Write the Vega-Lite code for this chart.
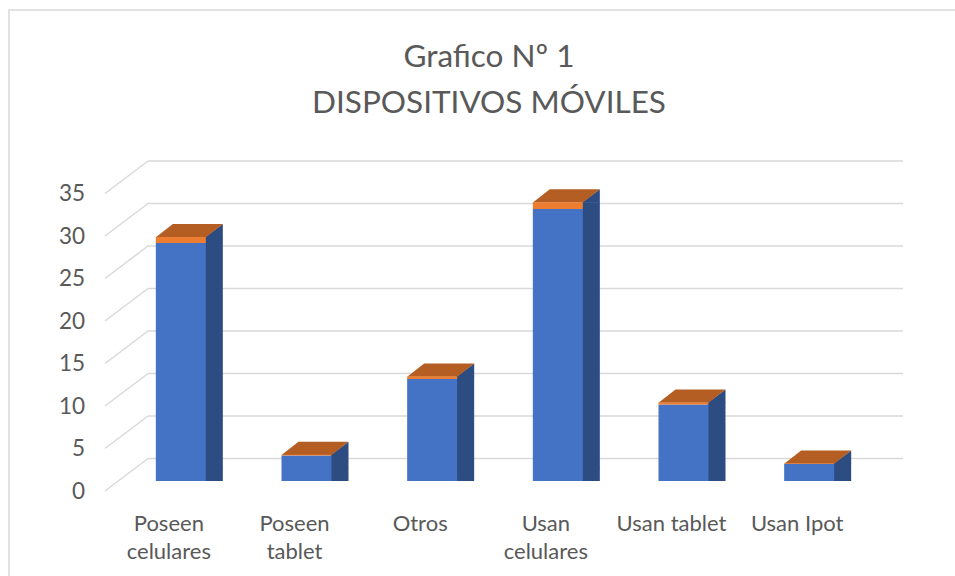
{
  "$schema": "https://vega.github.io/schema/vega-lite/v6.json",
  "autosize": {"type": "none"},
  "padding": {"left": 9, "top": 10, "right": 0, "bottom": 0},
  "width": 950,
  "height": 570,
  "background": "white",
  "config": {
    "view": {"stroke": "#D9D9D9", "strokeWidth": 1.5},
    "font": "Lato"
  },
  "title": {
    "text": ["Grafico Nº 1", "DISPOSITIVOS MÓVILES"],
    "font": "Lato",
    "fontSize": 31.5,
    "fontWeight": "normal",
    "color": "#595959",
    "lineHeight": 46,
    "anchor": "middle",
    "dx": 5,
    "baseline": "top",
    "offset": -109
  },
  "datasets": {
    "bars": [
      {"cat": "Poseen celulares", "serie": "Serie 1", "value": 28},
      {"cat": "Poseen celulares", "serie": "Serie 2", "value": 0.7},
      {"cat": "Poseen tablet", "serie": "Serie 1", "value": 3},
      {"cat": "Poseen tablet", "serie": "Serie 2", "value": 0.075},
      {"cat": "Otros", "serie": "Serie 1", "value": 12},
      {"cat": "Otros", "serie": "Serie 2", "value": 0.3},
      {"cat": "Usan celulares", "serie": "Serie 1", "value": 32},
      {"cat": "Usan celulares", "serie": "Serie 2", "value": 0.8},
      {"cat": "Usan tablet", "serie": "Serie 1", "value": 9},
      {"cat": "Usan tablet", "serie": "Serie 2", "value": 0.225},
      {"cat": "Usan Ipot", "serie": "Serie 1", "value": 2},
      {"cat": "Usan Ipot", "serie": "Serie 2", "value": 0.05}
    ],
    "grid": [{"v": 0}, {"v": 5}, {"v": 10}, {"v": 15}, {"v": 20}, {"v": 25}, {"v": 30}, {"v": 35}]
  },
  "layer": [
    {
      "data": {"name": "grid"},
      "mark": {"type": "rule", "color": "#D9D9D9", "strokeWidth": 1.5, "xOffset": 42, "x2Offset": 43, "yOffset": -22.5, "y2Offset": -22.5},
      "encoding": {
        "x": {"datum": "Poseen celulares", "bandPosition": 0, "type": "nominal",
              "scale": {"domain": ["Poseen celulares", "Poseen tablet", "Otros", "Usan celulares", "Usan tablet", "Usan Ipot"], "range": [97, 851], "paddingInner": 0, "paddingOuter": 0},
              "axis": {"orient": "bottom", "offset": -60, "domain": false, "ticks": false, "grid": false, "title": null, "labelAngle": 0,
                       "labelFont": "Lato", "labelFontSize": 22, "labelColor": "#595959", "labelPadding": 10, "labelBaseline": "alphabetic", "labelLineHeight": 28.5,
                       "labelExpr": "datum.value == 'Usan tablet' || datum.value == 'Usan Ipot' || datum.value == 'Otros' ? datum.value : split(datum.value, ' ')"}},
        "x2": {"datum": "Usan Ipot", "bandPosition": 1},
        "y": {"field": "v", "type": "quantitative",
              "scale": {"domain": [0, 35], "range": [471, 173.5], "nice": false, "zero": true},
              "axis": {"values": [0, 5, 10, 15, 20, 25, 30, 35], "domain": false, "ticks": false, "grid": false, "title": null, "offset": -75.5,
                       "labelFont": "Lato", "labelFontSize": 22.5, "labelColor": "#595959", "labelPadding": 0, "labelOffset": 10}},
        "y2": {"field": "v"}
      }
    },
    {
      "data": {"name": "grid"},
      "mark": {"type": "rule", "color": "#D9D9D9", "strokeWidth": 1.5, "xOffset": -1, "x2Offset": 42, "yOffset": 10, "y2Offset": -22.5},
      "encoding": {
        "x": {"datum": "Poseen celulares", "bandPosition": 0, "type": "nominal"},
        "x2": {"datum": "Poseen celulares", "bandPosition": 0},
        "y": {"field": "v", "type": "quantitative"},
        "y2": {"field": "v"}
      }
    },
    {
      "data": {"name": "bars"},
      "mark": {"type": "bar", "color": "#2C4C82", "width": 18, "xOffset": 45, "yOffset": 0, "y2Offset": -13},
      "encoding": {
        "x": {"field": "cat", "type": "nominal", "sort": null},
        "y": {"aggregate": "sum", "field": "value", "type": "quantitative"}
      }
    },
    {
      "data": {"name": "bars"},
      "mark": {"type": "point", "filled": true, "opacity": 1, "strokeWidth": 0, "color": "#2C4C82", "size": 10000, "xOffset": 12,
               "shape": "M0.48,0.01L0.84,-0.26L0.84,0.01Z"},
      "encoding": {
        "x": {"field": "cat", "type": "nominal", "sort": null},
        "y": {"aggregate": "sum", "field": "value", "type": "quantitative"}
      }
    },
    {
      "data": {"name": "bars"},
      "mark": {"type": "point", "filled": true, "opacity": 1, "strokeWidth": 0, "color": "#2C4C82", "size": 10000, "xOffset": 12,
               "shape": "M0.48,0L0.48,-0.27L0.84,-0.27Z"},
      "encoding": {
        "x": {"field": "cat", "type": "nominal", "sort": null},
        "y": {"datum": 0, "type": "quantitative"}
      }
    },
    {
      "data": {"name": "bars"},
      "mark": {"type": "point", "filled": true, "opacity": 1, "strokeWidth": 0, "color": "#B45E23", "size": 10000, "xOffset": 12,
               "shape": "M-0.5,0.005L0.5,0.005L0.84,-0.26L-0.16,-0.26Z"},
      "encoding": {
        "x": {"field": "cat", "type": "nominal", "sort": null},
        "y": {"aggregate": "sum", "field": "value", "type": "quantitative"}
      }
    },
    {
      "data": {"name": "bars"},
      "mark": {"type": "bar", "width": 50, "xOffset": 12},
      "encoding": {
        "x": {"field": "cat", "type": "nominal", "sort": null},
        "y": {"field": "value", "type": "quantitative", "stack": "zero"},
        "color": {"field": "serie", "type": "nominal", "scale": {"domain": ["Serie 1", "Serie 2"], "range": ["#4472C4", "#ED7D31"]}, "legend": null},
        "order": {"field": "serie", "sort": "ascending"}
      }
    }
  ]
}
